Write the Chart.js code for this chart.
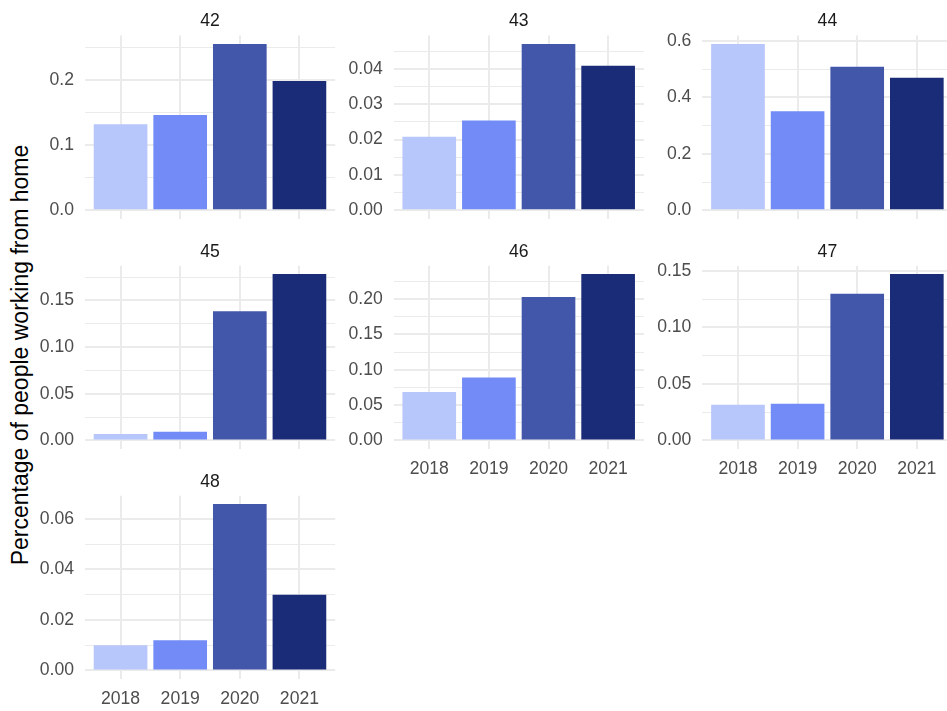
<!DOCTYPE html>
<html>
<head>
<meta charset="utf-8">
<script src="https://cdn.jsdelivr.net/npm/chart.js@4.4.1/dist/chart.umd.min.js"></script>
<style>
  html, body { margin: 0; padding: 0; background: #ffffff; width: 947px; height: 711px; overflow: hidden; position: relative; }
  canvas { position: absolute; }
  #ytitle {
    position: absolute;
    left: 20px;
    top: 355px;
    transform: translate(-50%, -50%) rotate(-90deg);
    white-space: nowrap;
    font-family: "Liberation Sans", Arial, Helvetica, sans-serif;
    font-size: 23px;
    line-height: 1;
    color: #000000;
  }
</style>
</head>
<body>
<div id="ytitle"></div>
<script>
// Years on the x axis of every panel
const years = ['2018', '2019', '2020', '2021'];

// Region codes, one facet each
const regions = ['42', '43', '44', '45', '46', '47', '48'];

// Share of people working from home, per region, per year
const share42 = [0.132, 0.146, 0.255, 0.198];
const share43 = [0.0208, 0.0254, 0.0471, 0.0409];
const share44 = [0.589, 0.351, 0.508, 0.469];
const share45 = [0.0068, 0.0092, 0.1382, 0.1782];
const share46 = [0.0684, 0.0891, 0.2028, 0.2353];
const share47 = [0.0316, 0.0324, 0.1299, 0.1473];
const share48 = [0.0100, 0.0119, 0.0659, 0.0300];

// Major y tick labels per panel
const ticks42 = ['0.0', '0.1', '0.2'];
const ticks43 = ['0.00', '0.01', '0.02', '0.03', '0.04'];
const ticks44 = ['0.0', '0.2', '0.4', '0.6'];
const ticks45 = ['0.00', '0.05', '0.10', '0.15'];
const ticks46 = ['0.00', '0.05', '0.10', '0.15', '0.20'];
const ticks47 = ['0.00', '0.05', '0.10', '0.15'];
const ticks48 = ['0.00', '0.02', '0.04', '0.06'];

const yearColors = ['#b7c6fb', '#728bf6', '#4257aa', '#1a2b78'];
const yTitle = 'Percentage of people working from home';

const FONT = '"Liberation Sans", Arial, Helvetica, sans-serif';
const TICK_SIZE = 17.6;

document.getElementById('ytitle').textContent = yTitle;

// Facet grid geometry
const colLeft = [84.8, 393.5, 702.2];
const rowTop = [35.6, 265.7, 495.7];
const panelW = 250.4;
const panelH = 183;

const panels = [
  { region: regions[0], values: share42, ticks: ticks42, col: 0, row: 0, xLabels: false },
  { region: regions[1], values: share43, ticks: ticks43, col: 1, row: 0, xLabels: false },
  { region: regions[2], values: share44, ticks: ticks44, col: 2, row: 0, xLabels: false },
  { region: regions[3], values: share45, ticks: ticks45, col: 0, row: 1, xLabels: false },
  { region: regions[4], values: share46, ticks: ticks46, col: 1, row: 1, xLabels: true },
  { region: regions[5], values: share47, ticks: ticks47, col: 2, row: 1, xLabels: true },
  { region: regions[6], values: share48, ticks: ticks48, col: 0, row: 2, xLabels: true }
];

function drawPanel(p) {
  const left = colLeft[p.col];
  const top = rowTop[p.row];
  const boxLeft = Math.floor(left) - 70;
  const boxTop = Math.floor(top) - 30;
  const yW = left - boxLeft;
  const topBlock = top - boxTop;
  const w = Math.ceil(yW + panelW + 4);
  const h = Math.ceil(topBlock + panelH + 40);
  const xH = h - topBlock - panelH;

  const canvas = document.createElement('canvas');
  canvas.width = w;
  canvas.height = h;
  canvas.style.left = boxLeft + 'px';
  canvas.style.top = boxTop + 'px';
  canvas.style.width = w + 'px';
  canvas.style.height = h + 'px';
  document.body.appendChild(canvas);

  // ggplot-style range: data span [0, max] widened by 5% each side
  const vmax = Math.max(...p.values);
  const yMin = -0.05 * vmax;
  const yMax = 1.05 * vmax;

  // Major ticks plus minor ticks halfway between them
  const majors = p.ticks.map(Number);
  const step = majors[1] - majors[0];
  const tickList = [];
  majors.forEach((v, i) => {
    tickList.push({ value: v, label: p.ticks[i], minor: false });
    const m = v + step / 2;
    if (m <= yMax) tickList.push({ value: m, label: '', minor: true });
  });

  const titleLine = TICK_SIZE * 1.2;
  const titleBottom = 3.4;

  new Chart(canvas, {
    type: 'bar',
    data: {
      datasets: [{
        data: years.map((y, i) => ({ x: Number(y), y: p.values[i] })),
        backgroundColor: yearColors,
        borderWidth: 0,
        barPercentage: 0.9,
        categoryPercentage: 1.0
      }]
    },
    options: {
      responsive: false,
      animation: false,
      devicePixelRatio: 1,
      layout: { padding: { left: 0, top: 0, right: w - yW - panelW, bottom: 0 } },
      plugins: {
        legend: { display: false },
        tooltip: { enabled: false },
        title: {
          display: true,
          text: p.region,
          fullSize: false,
          color: '#1a1a1a',
          font: { family: FONT, size: TICK_SIZE, weight: 'normal', lineHeight: 1.2 },
          padding: { top: topBlock - titleLine - titleBottom, bottom: titleBottom }
        }
      },
      scales: {
        x: {
          type: 'linear',
          min: Number(years[0]) - 0.6,
          max: Number(years[years.length - 1]) + 0.6,
          offset: false,
          afterBuildTicks: s => { s.ticks = years.map(y => ({ value: Number(y) })); },
          afterFit: s => { s.height = xH; },
          grid: { offset: false, color: '#ebebeb', lineWidth: 2, drawTicks: false },
          border: { display: false },
          ticks: {
            display: p.xLabels,
            autoSkip: false,
            maxRotation: 0,
            padding: 10.2,
            color: '#4d4d4d',
            font: { family: FONT, size: TICK_SIZE },
            callback: (v, i) => years[i]
          }
        },
        y: {
          type: 'linear',
          min: yMin,
          max: yMax,
          afterBuildTicks: s => { s.ticks = tickList.map(t => ({ value: t.value, minor: t.minor })); },
          afterFit: s => { s.width = yW; },
          grid: {
            drawTicks: false,
            color: '#ebebeb',
            lineWidth: ctx => (ctx.tick && ctx.tick.minor ? 1 : 2)
          },
          border: { display: false },
          ticks: {
            autoSkip: false,
            padding: 10.8,
            color: '#4d4d4d',
            font: { family: FONT, size: TICK_SIZE },
            callback: (v, i) => tickList[i].label
          }
        }
      }
    }
  });
}

panels.forEach(drawPanel);
</script>
</body>
</html>
